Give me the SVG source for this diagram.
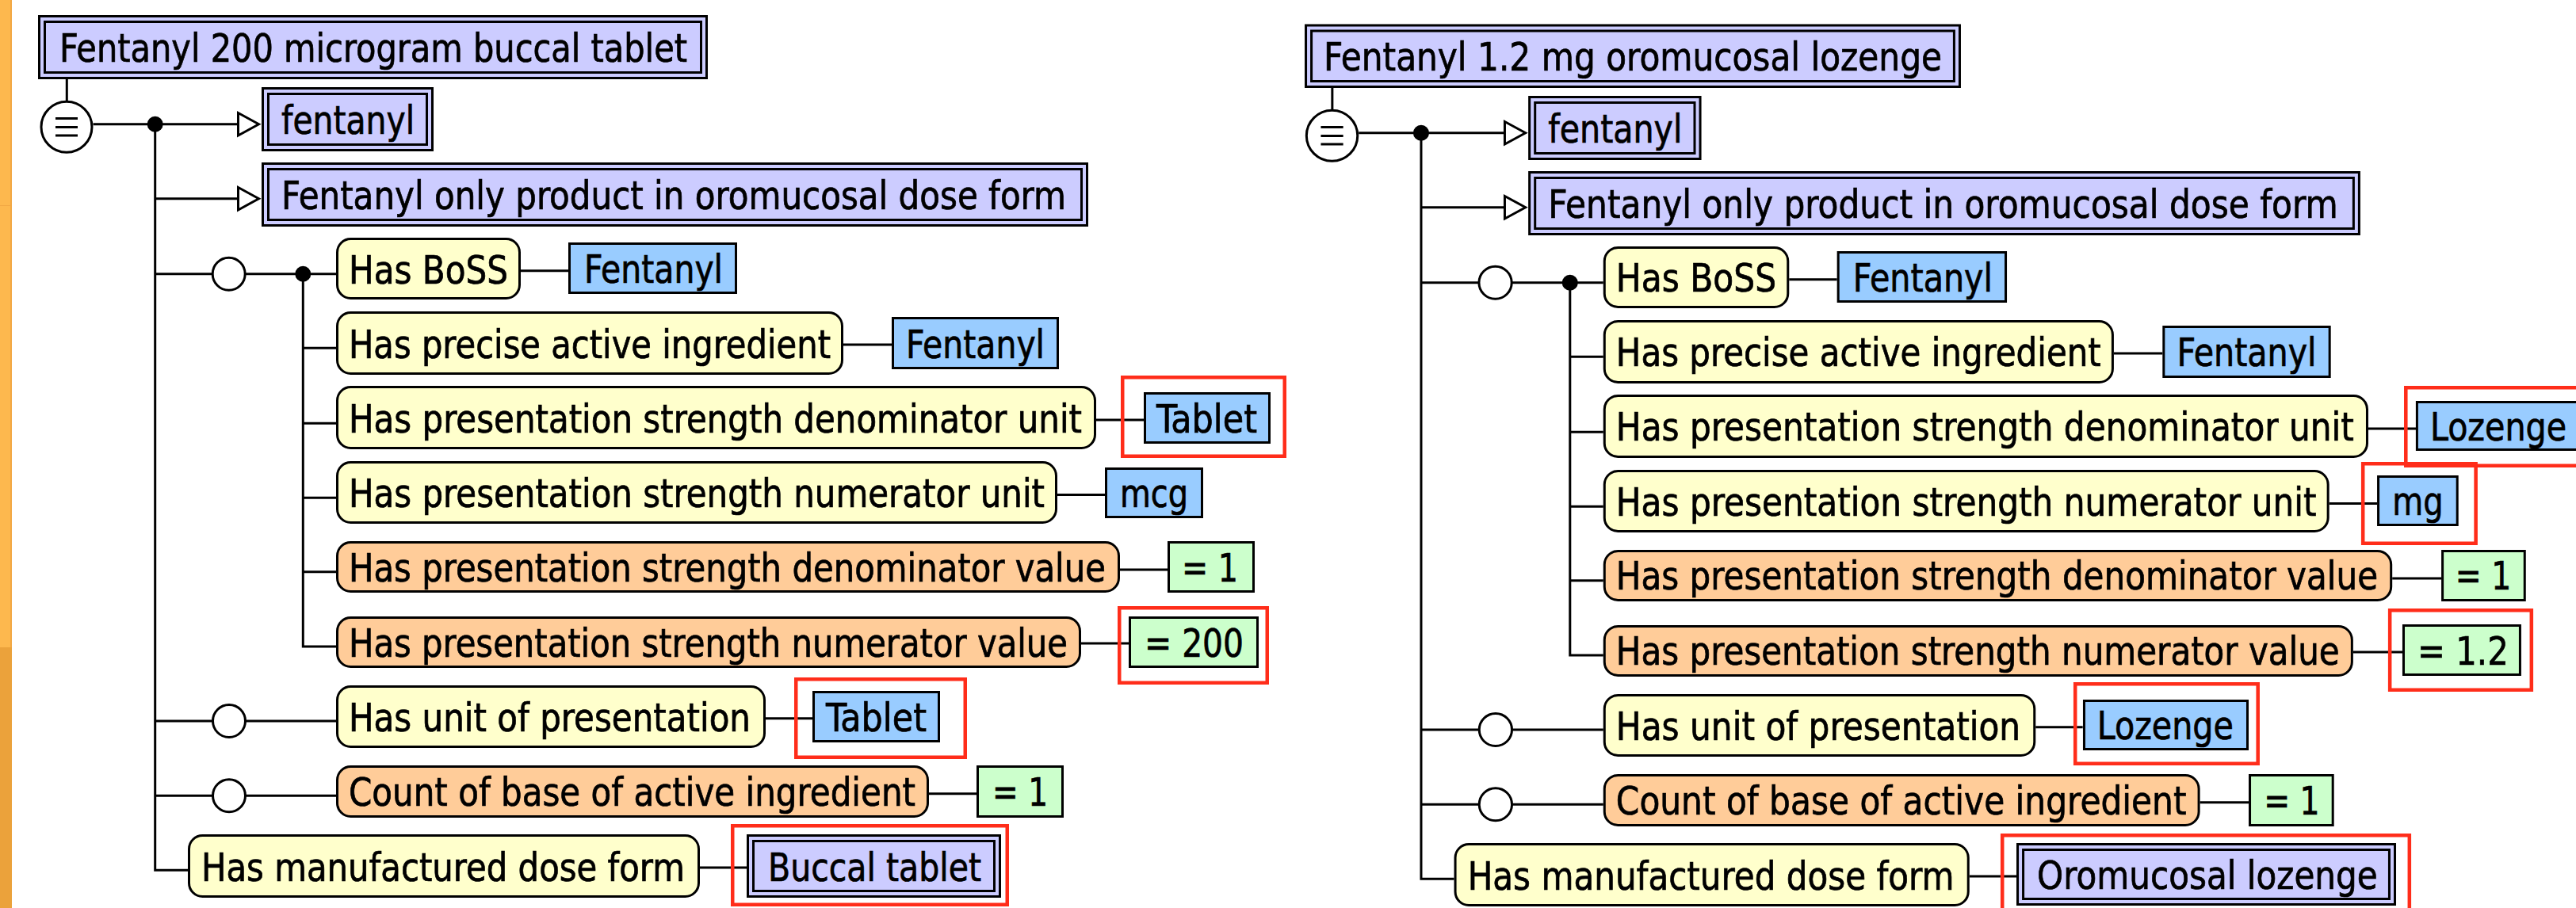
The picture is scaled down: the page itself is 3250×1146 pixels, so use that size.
<svg xmlns="http://www.w3.org/2000/svg" width="3250" height="1146" viewBox="0 0 3250 1146">
<style>
.ln{stroke:#000;stroke-width:3;fill:none}
.dbl{fill:#ccccff;stroke:#000;stroke-width:3}
.inn{fill:none;stroke:#000;stroke-width:3}
.yel{fill:#ffffcc;stroke:#000;stroke-width:3}
.org{fill:#ffcc99;stroke:#000;stroke-width:3}
.blu{fill:#99ccff;stroke:#000;stroke-width:3}
.grn{fill:#ccffcc;stroke:#000;stroke-width:3}
.red{fill:none;stroke:#ff2d1a;stroke-width:4.5}
.dot{fill:#000}
.oc{fill:#fff;stroke:#000;stroke-width:3}
.arr{fill:#fff;stroke:#000;stroke-width:3}
.t{font-family:"DejaVu Sans Condensed","DejaVu Sans",sans-serif;font-stretch:condensed;font-size:50px;fill:#000;stroke:#000;stroke-width:0.7}
</style>
<rect x="0" y="0" width="3250" height="1146" fill="#fff"/>
<g id="side-strip">
<rect x="0" y="0" width="15" height="817" fill="#fdb84e"/>
<rect x="0" y="817" width="15" height="329" fill="#eba23b"/>
<line x1="14" y1="0" x2="14" y2="817" stroke="#f2a844" stroke-width="2"/>
<line x1="0" y1="259.5" x2="15" y2="259.5" stroke="#f2a844" stroke-width="1"/>
</g>

<g id="left-panel">
<g id="connectors-left">
<line class="ln" x1="84.3" y1="100" x2="84.3" y2="127"/>
<line class="ln" x1="117.5" y1="156.7" x2="300" y2="156.7"/>
<polyline class="ln" points="195.7,156.7 195.7,1098.3 237,1098.3"/>
<line class="ln" x1="195.7" y1="250.7" x2="300" y2="250.7"/>
<line class="ln" x1="195.7" y1="345.7" x2="424" y2="345.7"/>
<polyline class="ln" points="382.3,345.7 382.3,816 424,816"/>
<line class="ln" x1="382.3" y1="439.3" x2="424" y2="439.3"/>
<line class="ln" x1="382.3" y1="534.3" x2="424" y2="534.3"/>
<line class="ln" x1="382.3" y1="628.3" x2="424" y2="628.3"/>
<line class="ln" x1="382.3" y1="721.7" x2="424" y2="721.7"/>
<line class="ln" x1="195.7" y1="910" x2="424" y2="910"/>
<line class="ln" x1="195.7" y1="1004.3" x2="424" y2="1004.3"/>
<line class="ln" x1="657" y1="341.7" x2="717" y2="341.7"/>
<line class="ln" x1="1064" y1="435" x2="1125" y2="435"/>
<line class="ln" x1="1383" y1="530" x2="1443" y2="530"/>
<line class="ln" x1="1334" y1="624.5" x2="1394" y2="624.5"/>
<line class="ln" x1="1413" y1="719" x2="1473" y2="719"/>
<line class="ln" x1="1364" y1="812" x2="1424" y2="812"/>
<line class="ln" x1="966" y1="906.7" x2="1025" y2="906.7"/>
<line class="ln" x1="1172" y1="1001.7" x2="1232" y2="1001.7"/>
<line class="ln" x1="883" y1="1095" x2="942" y2="1095"/>
<polygon class="arr" points="300.5,142.5 326.5,156.7 300.5,171"/>
<polygon class="arr" points="300.5,236.5 326.5,250.7 300.5,265"/>
<circle class="oc" cx="84" cy="160.3" r="32"/>
<line class="ln" x1="70" y1="149.5" x2="98" y2="149.5"/>
<line class="ln" x1="70" y1="160.5" x2="98" y2="160.5"/>
<line class="ln" x1="70" y1="171" x2="98" y2="171"/>
<circle class="dot" cx="195.7" cy="156.7" r="10"/>
<circle class="oc" cx="288.7" cy="345.7" r="20.5"/>
<circle class="dot" cx="382.3" cy="345.7" r="10"/>
<circle class="oc" cx="289" cy="910" r="20.5"/>
<circle class="oc" cx="289" cy="1004.3" r="20.5"/>
</g>
<g id="L-title"><rect class="dbl" x="49.5" y="20.5" width="842" height="78"/><rect class="inn" x="56.5" y="27.5" width="828" height="64"/><text class="t" x="75" y="78" textLength="792" lengthAdjust="spacingAndGlyphs">Fentanyl 200 microgram buccal tablet</text></g>
<g id="L-fentanyl"><rect class="dbl" x="331.5" y="111.5" width="214" height="78"/><rect class="inn" x="338.5" y="118.5" width="200" height="64"/><text class="t" x="355" y="169" textLength="168" lengthAdjust="spacingAndGlyphs">fentanyl</text></g>
<g id="L-fop"><rect class="dbl" x="331.5" y="206.5" width="1040" height="78"/><rect class="inn" x="338.5" y="213.5" width="1026" height="64"/><text class="t" x="355" y="264" textLength="990" lengthAdjust="spacingAndGlyphs">Fentanyl only product in oromucosal dose form</text></g>
<g id="L-boss"><rect class="yel" x="425.5" y="301.5" width="230" height="75" rx="17"/><text class="t" x="440" y="357.5" textLength="201" lengthAdjust="spacingAndGlyphs">Has BoSS</text></g>
<g id="L-boss-val"><rect class="blu" x="718.5" y="307.5" width="210" height="62"/><text class="t" x="737" y="357" textLength="175" lengthAdjust="spacingAndGlyphs">Fentanyl</text></g>
<g id="L-pai"><rect class="yel" x="425.5" y="394.5" width="637" height="77" rx="17"/><text class="t" x="440" y="451.5" textLength="608" lengthAdjust="spacingAndGlyphs">Has precise active ingredient</text></g>
<g id="L-pai-val"><rect class="blu" x="1126.5" y="401.5" width="208" height="63"/><text class="t" x="1143" y="451.5" textLength="175" lengthAdjust="spacingAndGlyphs">Fentanyl</text></g>
<g id="L-du"><rect class="yel" x="425.5" y="488.5" width="956" height="77" rx="17"/><text class="t" x="440" y="545.5" textLength="925" lengthAdjust="spacingAndGlyphs">Has presentation strength denominator unit</text></g>
<g id="L-du-val"><rect class="blu" x="1444.5" y="496.5" width="157" height="62"/><text class="t" x="1459" y="546" textLength="127" lengthAdjust="spacingAndGlyphs">Tablet</text><rect class="red" x="1416.25" y="476.25" width="204.5" height="99.5"/></g>
<g id="L-nu"><rect class="yel" x="425.5" y="583.5" width="907" height="76" rx="17"/><text class="t" x="440" y="640" textLength="878" lengthAdjust="spacingAndGlyphs">Has presentation strength numerator unit</text></g>
<g id="L-nu-val"><rect class="blu" x="1395.5" y="591.5" width="121" height="61"/><text class="t" x="1413" y="640" textLength="86" lengthAdjust="spacingAndGlyphs">mcg</text></g>
<g id="L-dv"><rect class="org" x="425.5" y="684.5" width="986" height="62" rx="17"/><text class="t" x="440" y="733.5" textLength="955" lengthAdjust="spacingAndGlyphs">Has presentation strength denominator value</text></g>
<g id="L-dv-val"><rect class="grn" x="1474.5" y="684.5" width="107" height="62"/><text class="t" x="1491" y="733.5" textLength="71" lengthAdjust="spacingAndGlyphs">= 1</text></g>
<g id="L-nv"><rect class="org" x="425.5" y="779.5" width="937" height="62" rx="17"/><text class="t" x="440" y="828.5" textLength="907" lengthAdjust="spacingAndGlyphs">Has presentation strength numerator value</text></g>
<g id="L-nv-val"><rect class="grn" x="1425.5" y="779.5" width="161" height="62"/><text class="t" x="1444" y="828.5" textLength="125" lengthAdjust="spacingAndGlyphs">= 200</text><rect class="red" x="1412.25" y="767.25" width="186.5" height="94.5"/></g>
<g id="L-up"><rect class="yel" x="425.5" y="866.5" width="539" height="76" rx="17"/><text class="t" x="440" y="923" textLength="507" lengthAdjust="spacingAndGlyphs">Has unit of presentation</text></g>
<g id="L-up-val"><rect class="blu" x="1026.5" y="873.5" width="158" height="62"/><text class="t" x="1042" y="923" textLength="127" lengthAdjust="spacingAndGlyphs">Tablet</text><rect class="red" x="1004.25" y="857.25" width="213.5" height="98.5"/></g>
<g id="L-cb"><rect class="org" x="425.5" y="967.5" width="745" height="63" rx="17"/><text class="t" x="440" y="1017" textLength="715" lengthAdjust="spacingAndGlyphs">Count of base of active ingredient</text></g>
<g id="L-cb-val"><rect class="grn" x="1233.5" y="967.5" width="107" height="63"/><text class="t" x="1252" y="1017" textLength="70" lengthAdjust="spacingAndGlyphs">= 1</text></g>
<g id="L-mdf"><rect class="yel" x="238.5" y="1054.5" width="643" height="77" rx="17"/><text class="t" x="254" y="1112" textLength="610" lengthAdjust="spacingAndGlyphs">Has manufactured dose form</text></g>
<g id="L-mdf-val"><rect class="dbl" x="943.5" y="1054.5" width="318" height="77"/><rect class="inn" x="950.5" y="1061.5" width="304" height="63"/><text class="t" x="969" y="1112" textLength="269" lengthAdjust="spacingAndGlyphs">Buccal tablet</text><rect class="red" x="924.25" y="1042.25" width="346.5" height="99.5"/></g>
</g>

<g id="right-panel" transform="matrix(1.0065 0 0 1 1596 11)">
<g id="connectors-right">
<line class="ln" x1="84.3" y1="100" x2="84.3" y2="127"/>
<line class="ln" x1="117.5" y1="156.7" x2="300" y2="156.7"/>
<polyline class="ln" points="195.7,156.7 195.7,1098.3 237,1098.3"/>
<line class="ln" x1="195.7" y1="250.7" x2="300" y2="250.7"/>
<line class="ln" x1="195.7" y1="345.7" x2="424" y2="345.7"/>
<polyline class="ln" points="382.3,345.7 382.3,816 424,816"/>
<line class="ln" x1="382.3" y1="439.3" x2="424" y2="439.3"/>
<line class="ln" x1="382.3" y1="534.3" x2="424" y2="534.3"/>
<line class="ln" x1="382.3" y1="628.3" x2="424" y2="628.3"/>
<line class="ln" x1="382.3" y1="721.7" x2="424" y2="721.7"/>
<line class="ln" x1="195.7" y1="910" x2="424" y2="910"/>
<line class="ln" x1="195.7" y1="1004.3" x2="424" y2="1004.3"/>
<line class="ln" x1="657" y1="341.7" x2="717" y2="341.7"/>
<line class="ln" x1="1064" y1="435" x2="1125" y2="435"/>
<line class="ln" x1="1383" y1="530" x2="1443" y2="530"/>
<line class="ln" x1="1334" y1="624.5" x2="1394" y2="624.5"/>
<line class="ln" x1="1413" y1="719" x2="1475" y2="719"/>
<line class="ln" x1="1364" y1="812" x2="1426" y2="812"/>
<line class="ln" x1="966" y1="906.7" x2="1025" y2="906.7"/>
<line class="ln" x1="1172" y1="1001.7" x2="1233" y2="1001.7"/>
<line class="ln" x1="883" y1="1095" x2="942" y2="1095"/>
<polygon class="arr" points="300.5,142.5 326.5,156.7 300.5,171"/>
<polygon class="arr" points="300.5,236.5 326.5,250.7 300.5,265"/>
<circle class="oc" cx="84" cy="160.3" r="32"/>
<line class="ln" x1="70" y1="149.5" x2="98" y2="149.5"/>
<line class="ln" x1="70" y1="160.5" x2="98" y2="160.5"/>
<line class="ln" x1="70" y1="171" x2="98" y2="171"/>
<circle class="dot" cx="195.7" cy="156.7" r="10"/>
<circle class="oc" cx="288.7" cy="345.7" r="20.5"/>
<circle class="dot" cx="382.3" cy="345.7" r="10"/>
<circle class="oc" cx="289" cy="910" r="20.5"/>
<circle class="oc" cx="289" cy="1004.3" r="20.5"/>
</g>
<g id="R-title"><rect class="dbl" x="51.2" y="21" width="819.6" height="77.5"/><rect class="inn" x="58.2" y="28" width="805.6" height="63.5"/><text class="t" x="73.5" y="78" textLength="775" lengthAdjust="spacingAndGlyphs">Fentanyl 1.2 mg oromucosal lozenge</text></g>
<g id="R-fentanyl"><rect class="dbl" x="331.5" y="111.5" width="214" height="78"/><rect class="inn" x="338.5" y="118.5" width="200" height="64"/><text class="t" x="355" y="169" textLength="168" lengthAdjust="spacingAndGlyphs">fentanyl</text></g>
<g id="R-fop"><rect class="dbl" x="331.5" y="206.5" width="1040" height="78"/><rect class="inn" x="338.5" y="213.5" width="1026" height="64"/><text class="t" x="355" y="264" textLength="990" lengthAdjust="spacingAndGlyphs">Fentanyl only product in oromucosal dose form</text></g>
<g id="R-boss"><rect class="yel" x="425.5" y="301.5" width="230" height="75" rx="17"/><text class="t" x="440" y="357.5" textLength="201" lengthAdjust="spacingAndGlyphs">Has BoSS</text></g>
<g id="R-boss-val"><rect class="blu" x="718.5" y="307.5" width="210" height="62"/><text class="t" x="737" y="357" textLength="175" lengthAdjust="spacingAndGlyphs">Fentanyl</text></g>
<g id="R-pai"><rect class="yel" x="425.5" y="394.5" width="637" height="77" rx="17"/><text class="t" x="440" y="451.5" textLength="608" lengthAdjust="spacingAndGlyphs">Has precise active ingredient</text></g>
<g id="R-pai-val"><rect class="blu" x="1126.5" y="401.5" width="208" height="63"/><text class="t" x="1143" y="451.5" textLength="175" lengthAdjust="spacingAndGlyphs">Fentanyl</text></g>
<g id="R-du"><rect class="yel" x="425.5" y="488.5" width="956" height="77" rx="17"/><text class="t" x="440" y="545.5" textLength="925" lengthAdjust="spacingAndGlyphs">Has presentation strength denominator unit</text></g>
<g id="R-du-val"><rect class="blu" x="1444" y="496.5" width="205" height="60"/><text class="t" x="1460.5" y="545" textLength="171" lengthAdjust="spacingAndGlyphs">Lozenge</text><rect class="red" x="1430" y="478.25" width="242" height="98.5"/></g>
<g id="R-nu"><rect class="yel" x="425.5" y="583.5" width="907" height="76" rx="17"/><text class="t" x="440" y="640" textLength="878" lengthAdjust="spacingAndGlyphs">Has presentation strength numerator unit</text></g>
<g id="R-nu-val"><rect class="blu" x="1395.5" y="590.5" width="99" height="61"/><text class="t" x="1413" y="639.5" textLength="64" lengthAdjust="spacingAndGlyphs">mg</text><rect class="red" x="1376.25" y="574.25" width="141.5" height="100.5"/></g>
<g id="R-dv"><rect class="org" x="425.5" y="684.5" width="986" height="62" rx="17"/><text class="t" x="440" y="733.5" textLength="955" lengthAdjust="spacingAndGlyphs">Has presentation strength denominator value</text></g>
<g id="R-dv-val"><rect class="grn" x="1476" y="684.5" width="103" height="62"/><text class="t" x="1492" y="733.5" textLength="70" lengthAdjust="spacingAndGlyphs">= 1</text></g>
<g id="R-nv"><rect class="org" x="425.5" y="779.5" width="937" height="62" rx="17"/><text class="t" x="440" y="828.5" textLength="907" lengthAdjust="spacingAndGlyphs">Has presentation strength numerator value</text></g>
<g id="R-nv-val"><rect class="grn" x="1427.2" y="778.5" width="146" height="62"/><text class="t" x="1444.6" y="828" textLength="114" lengthAdjust="spacingAndGlyphs">= 1.2</text><rect class="red" x="1410" y="759.25" width="177.5" height="100.5"/></g>
<g id="R-up"><rect class="yel" x="425.5" y="866.5" width="539" height="76" rx="17"/><text class="t" x="440" y="923" textLength="507" lengthAdjust="spacingAndGlyphs">Has unit of presentation</text></g>
<g id="R-up-val"><rect class="blu" x="1026.8" y="873.5" width="204.7" height="61"/><text class="t" x="1043" y="922.5" textLength="171" lengthAdjust="spacingAndGlyphs">Lozenge</text><rect class="red" x="1015.6" y="852.25" width="229" height="100.5"/></g>
<g id="R-cb"><rect class="org" x="425.5" y="967.5" width="745" height="63" rx="17"/><text class="t" x="440" y="1017" textLength="715" lengthAdjust="spacingAndGlyphs">Count of base of active ingredient</text></g>
<g id="R-cb-val"><rect class="grn" x="1234.5" y="967.5" width="104" height="63"/><text class="t" x="1252" y="1017" textLength="70" lengthAdjust="spacingAndGlyphs">= 1</text></g>
<g id="R-mdf"><rect class="yel" x="238.5" y="1054.5" width="643" height="77" rx="17"/><text class="t" x="254" y="1112" textLength="610" lengthAdjust="spacingAndGlyphs">Has manufactured dose form</text></g>
<g id="R-mdf-val"><rect class="dbl" x="943.4" y="1054.5" width="472.9" height="76"/><rect class="inn" x="950.4" y="1061.5" width="458.9" height="62"/><text class="t" x="967.7" y="1111" textLength="427" lengthAdjust="spacingAndGlyphs">Oromucosal lozenge</text><rect class="red" x="924.2" y="1043.25" width="510.3" height="110"/></g>
</g>
</svg>
